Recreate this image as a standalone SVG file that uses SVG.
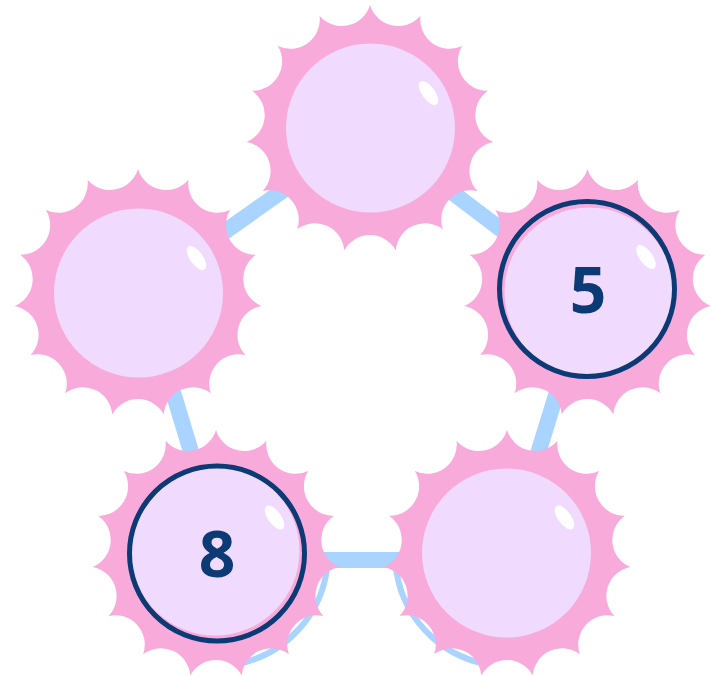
<svg xmlns="http://www.w3.org/2000/svg" xmlns:xlink="http://www.w3.org/1999/xlink" width="720" height="676" viewBox="0 0 720 676">
<style>
.edge{stroke:#A8D4FF;stroke-width:16;stroke-linecap:round;fill:none}
.halo{stroke:#A8D4FF;stroke-width:6;fill:none}
.sun{fill:#F8AADB}
.ball{fill:#F0DAFE}
.shine{fill:#FFFFFF}
.ring{fill:none;stroke:#0B3A75;stroke-width:5}
.num{font-family:"Open Sans","Noto Sans","DejaVu Sans",sans-serif;font-weight:700;font-size:64px;fill:#0B3A75;text-anchor:middle}
</style>
<defs>
<path id="sun" d="M0,-124 A29.4 29.4 0 0 0 50.44,-113.28 A29.4 29.4 0 0 0 92.15,-82.97 A29.4 29.4 0 0 0 117.93,-38.32 A29.4 29.4 0 0 0 123.32,12.96 A29.4 29.4 0 0 0 107.39,62 A29.4 29.4 0 0 0 72.89,100.32 A29.4 29.4 0 0 0 25.78,121.29 A29.4 29.4 0 0 0 -25.78,121.29 A29.4 29.4 0 0 0 -72.89,100.32 A29.4 29.4 0 0 0 -107.39,62 A29.4 29.4 0 0 0 -123.32,12.96 A29.4 29.4 0 0 0 -117.93,-38.32 A29.4 29.4 0 0 0 -92.15,-82.97 A29.4 29.4 0 0 0 -50.44,-113.28 A29.4 29.4 0 0 0 0,-124 Z"/>
<ellipse id="shine" rx="6.5" ry="14" transform="rotate(-36)"/>
</defs>
<g id="connectors">
<line class="edge" x1="370" y1="129" x2="138" y2="293"/>
<line class="edge" x1="370" y1="130" x2="587.5" y2="295"/>
<line class="edge" x1="587.5" y1="293" x2="507" y2="554"/>
<line class="edge" x1="216" y1="560" x2="507" y2="560"/>
<line class="edge" x1="143" y1="293" x2="222" y2="554"/>
<path class="halo" d="M327.5,563.7 A112 112 0 0 1 235.4,664.3"/>
<path class="halo" d="M487.6,664.3 A112 112 0 0 1 395.5,563.7"/>
</g>
<g id="node-top">
<use href="#sun" class="sun" x="370" y="129"/>
<circle class="ball" cx="370.5" cy="128" r="84.5"/>
<use href="#shine" class="shine" x="428.5" y="93"/>
</g>
<g id="node-left">
<use href="#sun" class="sun" x="138" y="293"/>
<circle class="ball" cx="138.5" cy="293" r="84.5"/>
<use href="#shine" class="shine" x="196.5" y="258"/>
</g>
<g id="node-right">
<use href="#sun" class="sun" x="587.5" y="293"/>
<circle class="ball" cx="589" cy="292" r="84.5"/>
<circle class="ring" cx="587" cy="289" r="87.5"/>
<use href="#shine" class="shine" x="646" y="257"/>
<text class="num" x="588" y="313">5</text>
</g>
<g id="node-bottom-left">
<use href="#sun" class="sun" x="216" y="554"/>
<circle class="ball" cx="215" cy="551" r="84.5"/>
<circle class="ring" cx="217" cy="553.5" r="87.5"/>
<use href="#shine" class="shine" x="274.5" y="517.5"/>
<text class="num" x="217" y="577">8</text>
</g>
<g id="node-bottom-right">
<use href="#sun" class="sun" x="507" y="554"/>
<circle class="ball" cx="506.5" cy="553" r="84.5"/>
<use href="#shine" class="shine" x="564.5" y="517.5"/>
</g>
</svg>
